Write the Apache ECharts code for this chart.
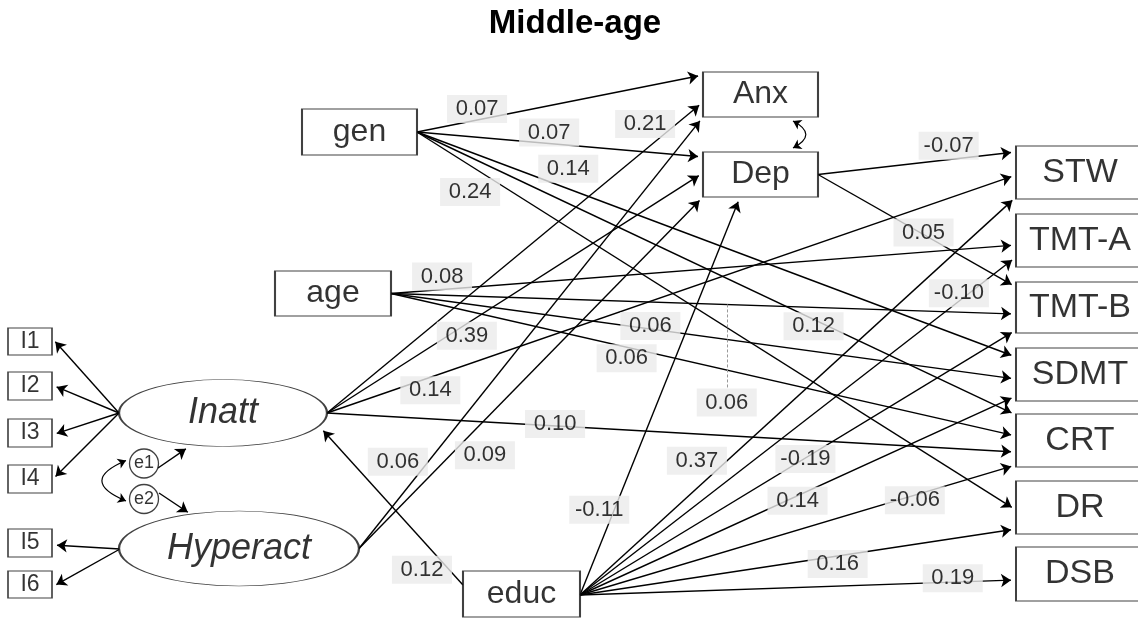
<!DOCTYPE html>
<html><head><meta charset="utf-8">
<script src="https://cdn.jsdelivr.net/npm/echarts@6/dist/echarts.min.js"></script>
<style>html,body{margin:0;padding:0;background:#fff}#chart{width:1138px;height:619px}</style>
</head><body><div id="chart"></div>
<script>
// ================= DATA =================
const chartTitle = 'Middle-age';
const observedNodes = ['gen','age','Anx','Dep','STW','TMT-A','TMT-B','SDMT','CRT','DR','DSB','educ'];
const latentNodes = ['Inatt','Hyperact'];
const errorNodes = ['e1','e2'];
const indicatorNodes = ['I1','I2','I3','I4','I5','I6'];

// structural paths with standardized coefficients
const pathFrom = ['gen','gen','gen','gen','gen','age','age','age','age','Inatt','Inatt','Inatt','Inatt','Hyperact','Hyperact','educ','educ','educ','educ','educ','educ','educ','educ','educ','Dep','Dep'];
const pathTo   = ['Anx','Dep','SDMT','CRT','DR','TMT-A','TMT-B','SDMT','CRT','Anx','Dep','STW','CRT','Anx','Dep','Inatt','Dep','STW','TMT-A','TMT-B','SDMT','CRT','DR','DSB','STW','TMT-B'];
const pathCoef = [0.07,0.07,0.14,0.12,0.24,0.08,0.06,0.06,0.06,0.21,0.39,0.14,0.10,0.06,0.09,0.12,-0.11,0.37,-0.10,-0.19,0.14,-0.06,0.16,0.19,-0.07,0.05];

// measurement / error paths (no coefficients shown)
const loadFrom = ['Inatt','Inatt','Inatt','Inatt','Hyperact','Hyperact','e1','e2'];
const loadTo   = ['I1','I2','I3','I4','I5','I6','Inatt','Hyperact'];

// covariances (double-headed)
const covFrom = ['e1','Anx'];
const covTo   = ['e2','Dep'];

// ================= LAYOUT (positions / sizes) =================
const box = { // centre x, centre y, width, height (pixels)
  gen:[359.5,132,115,46], age:[333,293.5,116,45], Anx:[760.5,94.5,115,45], Dep:[760.5,174.5,115,45],
  STW:[1080,172.5,128,53], 'TMT-A':[1080,240.5,128,53], 'TMT-B':[1080,307.5,128,51], SDMT:[1080,374.5,128,53],
  CRT:[1080,440.5,128,53], DR:[1080,507.5,128,53], DSB:[1080,574,128,54], educ:[521.5,594,117,46],
  Inatt:[223,413,208,67], Hyperact:[239,548.5,240,75], e1:[144,463.5,29,29], e2:[144,499,29,29],
  I1:[30,341.5,44,27], I2:[30,386,44,28], I3:[30,433,44,28], I4:[30,479,44,28], I5:[30,543,44,28], I6:[30,584.5,44,27]
};
const pathPorts = [
  [['R',0],['L',-19.5]], [['R',0],['L',-17.5]], [['R',0],['L',-17.5]], [['R',0],['L',-25.5]], [['R',0],['L',2.5]],
  [['R',0],['L',4.5]], [['R',0],['L',6.5]], [['R',0],['L',4.5]], [['R',0],['L',-4.5]],
  [['R',0],['L',7.5]], [['R',0],['L',-1.5]], [['R',0],['L',2.5]], [['R',0],['L',11.5]],
  [['R',0],['L',22.5]], [['R',0],['L',22.5]],
  [['L',-9],['P',97,14]], [['R',1],['B',-20.5]], [['R',1],['L',24.5]], [['R',1],['L',16.5]], [['R',1],['L',22.5]],
  [['R',1],['L',21.5]], [['R',1],['L',24.5]], [['R',1],['L',21.5]], [['R',1],['L',6]],
  [['R',0],['L',-20.5]], [['R',0],['L',-20.5]]
];
// label placement: fraction along path, x shift, y shift
const labelPlace = [
  [0.21,0,-11],[0.462,0,-11],[0.2525,0,-20],[0.662,0,7],[0.0886,0,26.5],
  [0.0817,0,-13],[0.534,2,98],[0.415,0,-3],[0.377,0,11],
  [0.846,0,-26],[0.372,0,12],[0.15,0,13],[0.331,0,-2],
  [0.113,0,-38],[0.366,0,35.5],
  [0.287,0,30],[0.214,-15,0],[0.337,-30,0],[0.869,0,-8],[0.517,0,1],
  [0.499,0,5],[0.768,0,5],[0.591,0,8],[0.855,0,-4],
  [0.66,0,-14],[0.533,0,-2]
];
const leaderPaths = [6]; // label connected by dashed leader
const loadPorts = [
  [['P',-104,0],['R',-3.5]], [['P',-104,0],['R',-1]], [['P',-104,0],['R',2]], [['P',-104,0],['R',1]],
  [['P',-119,0.5],['R',2]], [['P',-119,0.5],['R',2.5]],
  [['P',14,4.5],['P',-33,33]], [['P',15,-6],['P',-47,-33.5]]
];
const covPorts = [[['P',-18,-3],['P',-18,2]], [['P',32.5,26.5],['P',32.5,-26.5]]];
const covCurve = [-1.19, 0.95];
const nodeFont = {gen:32,age:32,Anx:32,Dep:32,educ:32,STW:34,'TMT-A':34,'TMT-B':34,SDMT:34,CRT:34,DR:34,DSB:34,
  Inatt:36,Hyperact:36,e1:18,e2:18,I1:23,I2:23,I3:23,I4:23,I5:23,I6:23};

// ================= BUILD =================
const FONT = "'Liberation Sans', Arial, Helvetica, sans-serif";
const ARROW = 10;
function anchor(name, spec){
  const [x,y,w,h] = box[name];
  const s = spec[0], a = spec[1], b = spec[2];
  if (s==='R') return [x+w/2, y+a];
  if (s==='L') return [x-w/2, y+a];
  if (s==='B') return [x+a, y+h/2];
  if (s==='T') return [x+a, y-h/2];
  return [x+a, y+b];
}
function seg(from, to, ports){ return [anchor(from, ports[0]), anchor(to, ports[1])]; }
function shorten(p, q, d){
  const dx=q[0]-p[0], dy=q[1]-p[1], L=Math.hypot(dx,dy);
  return [q[0]-dx/L*d, q[1]-dy/L*d];
}
const pathSegs = pathFrom.map((f,i)=>seg(f, pathTo[i], pathPorts[i]));
const loadSegs = loadFrom.map((f,i)=>seg(f, loadTo[i], loadPorts[i]));
const covSegs = covFrom.map((f,i)=>seg(f, covTo[i], covPorts[i]));

const arrowLines = pathSegs.concat(loadSegs).map(([p,q])=>({coords:[p, shorten(p,q,ARROW/2)]}));
const covLines = covSegs.map(([p,q],i)=>({coords:[p,q], lineStyle:{curveness:covCurve[i]}}));

const labelData = pathCoef.map((c,i)=>{
  const [p,q] = pathSegs[i]; const [t,dx,dy] = labelPlace[i];
  return {name:c.toFixed(2), value:[p[0]+(q[0]-p[0])*t+dx, p[1]+(q[1]-p[1])*t+dy]};
});
const leaderLines = leaderPaths.map(i=>{
  const [p,q] = pathSegs[i]; const [t,dx,dy] = labelPlace[i];
  const x = p[0]+(q[0]-p[0])*t, y = p[1]+(q[1]-p[1])*t;
  return {coords:[[x+dx,y],[x+dx,y+dy-14]]};
});

const allNodes = observedNodes.concat(latentNodes, errorNodes, indicatorNodes);
const nodeData = allNodes.map(n=>{
  const [x,y,w,h] = box[n];
  const round = latentNodes.includes(n) || errorNodes.includes(n);
  return {
    name:n, value:[x,y], symbol: round ? 'circle' : 'rect', symbolSize:[w,h],
    label:{fontSize:nodeFont[n], fontStyle: latentNodes.includes(n) ? 'italic' : 'normal'}
  };
});

const chart = echarts.init(document.getElementById('chart'), null, {renderer:'canvas'});
chart.setOption({
  backgroundColor:'#fff',
  animation:false,
  title:{text:chartTitle, left:575, top:7, textAlign:'center', padding:0,
    textStyle:{fontFamily:FONT, fontSize:33, fontWeight:'bold', color:'#000', lineHeight:33}},
  grid:{left:0,right:0,top:0,bottom:0},
  xAxis:{type:'value', min:0, max:1138, show:false},
  yAxis:{type:'value', min:0, max:619, inverse:true, show:false},
  series:[
    {type:'lines', coordinateSystem:'cartesian2d', silent:true, z:2,
     symbol:['none','arrow'], symbolSize:ARROW,
     lineStyle:{color:'#000', width:1.4, opacity:1}, data:arrowLines},
    {type:'lines', coordinateSystem:'cartesian2d', silent:true, z:2,
     symbol:['arrow','arrow'], symbolSize:8,
     lineStyle:{color:'#000', width:1.2, opacity:1}, data:covLines},
    {type:'lines', coordinateSystem:'cartesian2d', silent:true, z:2,
     symbol:['none','none'],
     lineStyle:{color:'#999', width:1, type:[3,2], opacity:1}, data:leaderLines},
    {type:'scatter', silent:true, z:4, clip:false,
     itemStyle:{color:'#fff', borderColor:'#111', borderWidth:1.3},
     label:{show:true, position:'inside', formatter:'{b}', color:'#000', fontFamily:FONT},
     data:nodeData},
    {type:'scatter', silent:true, z:5, clip:false, symbolSize:1,
     itemStyle:{color:'rgba(0,0,0,0)'},
     label:{show:true, position:'inside', formatter:'{b}', color:'#000', fontFamily:FONT,
       fontSize:22, lineHeight:22, backgroundColor:'#ebebeb', padding:[3,5,3,5], width:50, align:'center'},
     data:labelData}
  ]
});
</script></body></html>
